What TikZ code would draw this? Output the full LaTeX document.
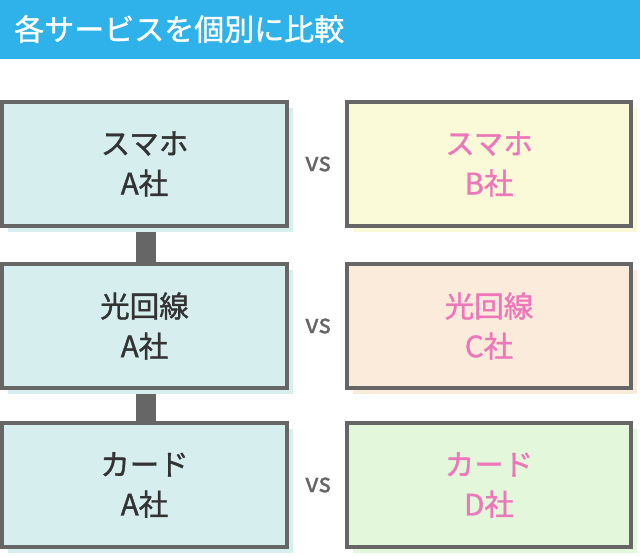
\documentclass[tikz,border=0pt]{standalone}
\usepackage{fontspec}
\usepackage{tikz}
\usetikzlibrary{positioning,shadows,backgrounds}
\newfontfamily\jpfont[FakeBold=1.2]{Noto Sans CJK JP}
\definecolor{headblue}{HTML}{2FB1E9}
\definecolor{frame}{HTML}{666666}
\definecolor{ink}{HTML}{333333}
\definecolor{pinkink}{HTML}{EE77BB}
\definecolor{fillA}{HTML}{D7EEEE}
\definecolor{fillB}{HTML}{FAFAD8}
\definecolor{fillC}{HTML}{FAEBDB}
\definecolor{fillD}{HTML}{E3F7DA}

\begin{document}
\begin{tikzpicture}[x=1pt, y=-1pt,
  card/.style={draw=frame, line width=4pt, fill=#1, minimum width=285pt,
               minimum height=124pt, align=center, inner sep=0pt,
               font=\jpfont\fontsize{29.5}{40}\selectfont,
               general shadow={fill=#1, shadow xshift=6pt, shadow yshift=-6pt}},
  own/.style={card=fillA, text=ink},
  rival/.style={card=#1, text=pinkink, minimum width=284pt},
  versus/.style={text=frame, font=\jpfont\fontsize{26}{26}\selectfont, inner sep=0pt},
  link/.style={draw=frame, line width=20pt}]
\useasboundingbox (0,0) rectangle (640,556);
\fill[headblue] (0,0) rectangle (640,59);
\node[anchor=west, text=white, inner sep=0pt, font=\jpfont\fontsize{30}{30}\selectfont]
  (title) at (14,29) {各サービスを個別に比較};
% own company
\node[own] (phoneA) at (144.5,164) {スマホ\\A社};
\node[own] (lineA)  at (144.5,326) {光回線\\A社};
\node[own] (cardA)  at (144.5,485) {カード\\A社};
% rivals
\node[rival=fillB] (phoneB) at (489,164) {スマホ\\B社};
\node[rival=fillC] (lineC)  at (489,326) {光回線\\C社};
\node[rival=fillD] (cardD)  at (489,485) {カード\\D社};
\node[versus] (vs1) at (318,164) {vs};
\node[versus] (vs2) at (318,326) {vs};
\node[versus] (vs3) at (318,485) {vs};
\begin{scope}[on background layer]
\draw[link] ([xshift=1.5pt]phoneA.south) -- ([xshift=1.5pt]lineA.north);
\draw[link] ([xshift=1.5pt]lineA.south) -- ([xshift=1.5pt]cardA.north);
\end{scope}
\end{tikzpicture}
\end{document}
